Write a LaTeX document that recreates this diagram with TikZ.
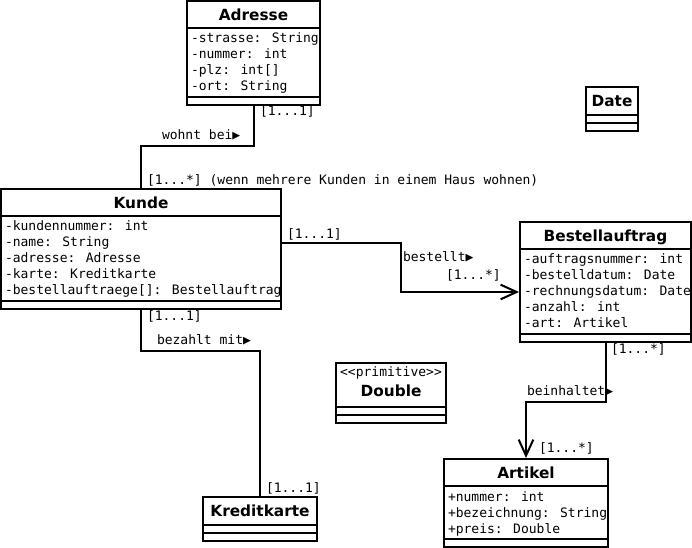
\documentclass[tikz,border=0pt]{standalone}
\usepackage{fontspec}
\setmainfont{DejaVu Sans}
\newfontfamily\umlmono{DejaVu Sans Mono}
\usetikzlibrary{arrows.meta,fit,calc}

\tikzset{every picture/.style={line width=1.5pt}}
\tikzset{
  classbox/.style={draw, inner sep=0pt},
  classtitle/.style={anchor=base, inner sep=0pt, font=\fontsize{11.5}{13}\selectfont\bfseries},
  attr/.style={anchor=base west, inner sep=0pt, font=\fontsize{9.75}{12}\selectfont\umlmono},
  multiplicity/.style={attr},
  assoc/.style={line join=miter},
  navarrow/.style={-{Straight Barb[length=12pt,width=11pt]}},
}

\begin{document}
\begin{tikzpicture}[x=0.75pt,y=0.75pt,yscale=-1,xscale=1]
\useasboundingbox (0,0) rectangle (692,548);

%Class: Adresse
\node [classbox, fit={(187,1) (320,105)}] (adresse) {};
\draw (187,28) -- (320,28) (187,97) -- (320,97);
\node [classtitle] (adresse-title) at (253.5,20.5) {Adresse};
\foreach \t [count=\i] in {-strasse: String,-nummer: int,-plz: int[],-ort: String}
  \node [attr] (adresse-\i) at (190,27+16*\i) {\t};

%Class: Date
\node [classbox, fit={(586,87) (638,131)}] (date) {};
\draw (586,115) -- (638,115) (586,123) -- (638,123);
\node [classtitle] (date-title) at (612,106.5) {Date};

%Class: Kunde
\node [classbox, fit={(1,189) (281,309)}] (kunde) {};
\draw (1,216) -- (281,216) (1,301) -- (281,301);
\node [classtitle] (kunde-title) at (141,208.5) {Kunde};
\foreach \t [count=\i] in {-kundennummer: int,-name: String,-adresse: Adresse,-karte: Kreditkarte,-bestellauftraege[]: Bestellauftrag}
  \node [attr] (kunde-\i) at (4,215+16*\i) {\t};

%Class: Bestellauftrag
\node [classbox, fit={(520,222) (691,342)}] (bestellauftrag) {};
\draw (520,249) -- (691,249) (520,334) -- (691,334);
\node [classtitle] (bestellauftrag-title) at (605.5,241.5) {Bestellauftrag};
\foreach \t [count=\i] in {-auftragsnummer: int,-bestelldatum: Date,-rechnungsdatum: Date,-anzahl: int,-art: Artikel}
  \node [attr] (bestellauftrag-\i) at (523,248+16*\i) {\t};

%Class: Double
\node [classbox, fit={(336,363) (446,423)}] (double) {};
\draw (336,407) -- (446,407) (336,415) -- (446,415);
\node [attr, anchor=base] (double-stereo) at (391,377) {<{}<primitive>{}>};
\node [classtitle] (double-title) at (391,397) {Double};

%Class: Kreditkarte
\node [classbox, fit={(203,497) (317,541)}] (kreditkarte) {};
\draw (203,525) -- (317,525) (203,533) -- (317,533);
\node [classtitle] (kreditkarte-title) at (260,516.5) {Kreditkarte};

%Class: Artikel
\node [classbox, fit={(444,459) (608,547)}] (artikel) {};
\draw (444,486) -- (608,486) (444,539) -- (608,539);
\node [classtitle] (artikel-title) at (526,478.5) {Artikel};
\foreach \t [count=\i] in {+nummer: int,+bezeichnung: String,+preis: Double}
  \node [attr] (artikel-\i) at (447,485+16*\i) {\t};

%Association: wohnt bei
\draw [assoc] (adresse.south) -- ++(0,40) -| (kunde.north);
%Association: bezahlt mit
\draw [assoc] (kunde.south) -- ++(0,41) -| (kreditkarte.north);
%Association: bestellt
\draw [assoc, navarrow] ($(kunde.east)+(0,-6)$) -- ++(119,0) |- ($(bestellauftrag.west)+(0,10)$);
%Association: beinhaltet
\draw [assoc, navarrow] (bestellauftrag.south) -- ++(0,59) -| (artikel.north);

% Text Node
\node [multiplicity] (wohnt-m1) at (259,116) {[1...1]};
\node [multiplicity] (wohnt-label) at (161,140) {wohnt bei▶};
\node [multiplicity] (wohnt-m2) at (146,185) {[1...*] (wenn mehrere Kunden in einem Haus wohnen)};
% Text Node
\node [multiplicity] (bestellt-m1) at (286,239) {[1...1]};
\node [multiplicity] (bestellt-label) at (402,262) {bestellt▶};
\node [multiplicity] (bestellt-m2) at (445,280) {[1...*]};
% Text Node
\node [multiplicity] (bezahlt-m1) at (146,321) {[1...1]};
\node [multiplicity] (bezahlt-label) at (156,345) {bezahlt mit▶};
\node [multiplicity] (bezahlt-m2) at (265,492) {[1...1]};
% Text Node
\node [multiplicity] (beinhaltet-m1) at (610,354) {[1...*]};
\node [multiplicity] (beinhaltet-label) at (526,396) {beinhaltet▶};
\node [multiplicity] (beinhaltet-m2) at (538,453) {[1...*]};

\end{tikzpicture}
\end{document}
